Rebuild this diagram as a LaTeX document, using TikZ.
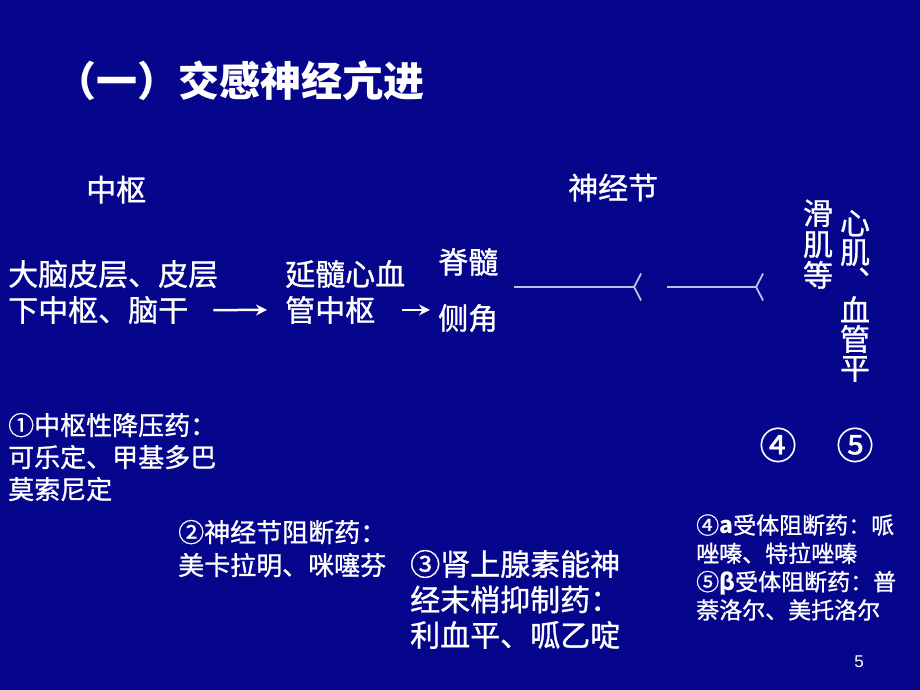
\documentclass[tikz,border=0pt]{standalone}
\usepackage{fontspec}
\setmainfont{Noto Sans CJK SC}[UprightFeatures={FakeBold=1}]
\newfontfamily\pagefont{Liberation Sans}
\usepackage{tikz}
\usetikzlibrary{arrows, arrows.meta, positioning, calc}
\definecolor{slidebg}{RGB}{6,6,140}
\definecolor{fibre}{RGB}{190,190,235}
\tikzstyle{slidetitle} = [anchor=base west, inner sep=0pt, text=white, font=\fontsize{41pt}{48pt}\selectfont\bfseries]
\tikzstyle{bodytext} = [anchor=base west, inner sep=0pt, text=white, font=\fontsize{30pt}{36pt}\selectfont]
\tikzstyle{drugtext} = [anchor=base west, inner sep=0pt, text=white, align=left]
\tikzstyle{vcolumn} = [anchor=base, inner sep=0pt, text=white, align=center]
\tikzstyle{sitemark} = [anchor=base, inner sep=0pt, text=white, font=\fontsize{37pt}{37pt}\selectfont]
\tikzstyle{arrow} = [line width=2.5pt, white, -{Stealth[length=11pt,width=11pt]}]
\tikzstyle{nerve} = [draw=fibre, line width=1.2pt, -{Straight Barb[reversed,length=7pt,width=27pt,line width=1.8pt]}]

\begin{document}
\begin{tikzpicture}[x=1pt, y=1pt]

        % 背景
        \fill[slidebg] (0,0) rectangle (920,690);
        \useasboundingbox (0,0) rectangle (920,690);

        % 标题
        \node (title) [slidetitle] at (55,593) {（一）交感神经亢进};

        % 中枢一侧
        \node (cns) [bodytext] at (86,489) {中枢};
        \node (cortexA) [bodytext] at (8,404.6) {大脑皮层、皮层};
        \node (cortexB) [bodytext, below=36pt of cortexA.base west, anchor=base west] {下中枢、脑干};
        \node (medA) [bodytext] at (285,404.6) {延髓心血};
        \node (medB) [bodytext, below=36pt of medA.base west, anchor=base west] {管中枢};
        \node (hornA) [bodytext] at (438,416.6) {脊髓};
        \node (hornB) [bodytext, below=56pt of hornA.base west, anchor=base west] {侧角};

        % 神经节与纤维
        \node (ganglion) [bodytext] at (568,491) {神经节};
        \coordinate (preA) at (514,403);
        \coordinate (preB) at (642,403);
        \coordinate (postA) at (667,403);
        \coordinate (postB) at (764,403);

        % 效应器（竖排，基线取末行）
        \node (smooth) [vcolumn, font=\fontsize{30pt}{31pt}\selectfont] at (818,403.6) {滑\\肌\\等};
        \node (cardiac) [vcolumn, font=\fontsize{30pt}{29pt}\selectfont] at (855,310.6) {心\\肌\\︑\\血\\管\\平};
        \node (siteD) [sitemark] at (778,231) {④};
        \node (siteE) [sitemark] at (855,231) {⑤};

        % 药物
        \node (drugA) [drugtext, font=\fontsize{26pt}{32pt}\selectfont] at (8,191) {①中枢性降压药：\\可乐定、甲基多巴\\莫索尼定};
        \node (drugB) [drugtext, font=\fontsize{26pt}{33pt}\selectfont] at (178,115) {②神经节阻断药：\\美卡拉明、咪噻芬};
        \node (drugC) [drugtext, font=\fontsize{30pt}{35.5pt}\selectfont] at (410,43.6) {③肾上腺素能神\\经末梢抑制药：\\利血平、呱乙啶};
        \node (drugD) [drugtext, font=\fontsize{23pt}{28.3pt}\selectfont] at (696,71.3) {④{\bfseries a}受体阻断药：哌\\唑嗪、特拉唑嗪\\⑤{\bfseries β}受体阻断药：普\\萘洛尔、美托洛尔};

        % 页码
        \node (pagenum) [anchor=base, inner sep=0pt, text=white, font=\pagefont\fontsize{17pt}{20pt}\selectfont] at (859,22) {5};

        % 连线
        \draw [arrow, shorten <=25pt, shorten >=18pt] (cortexB.east) -- (medB.west);
        \draw [arrow, shorten <=27pt, shorten >=8pt] (medB.east) -- (medB.east -| hornB.west);
        \draw [nerve] (preA) -- (preB);
        \draw [nerve] (postA) -- (postB);

\end{tikzpicture}
\end{document}
